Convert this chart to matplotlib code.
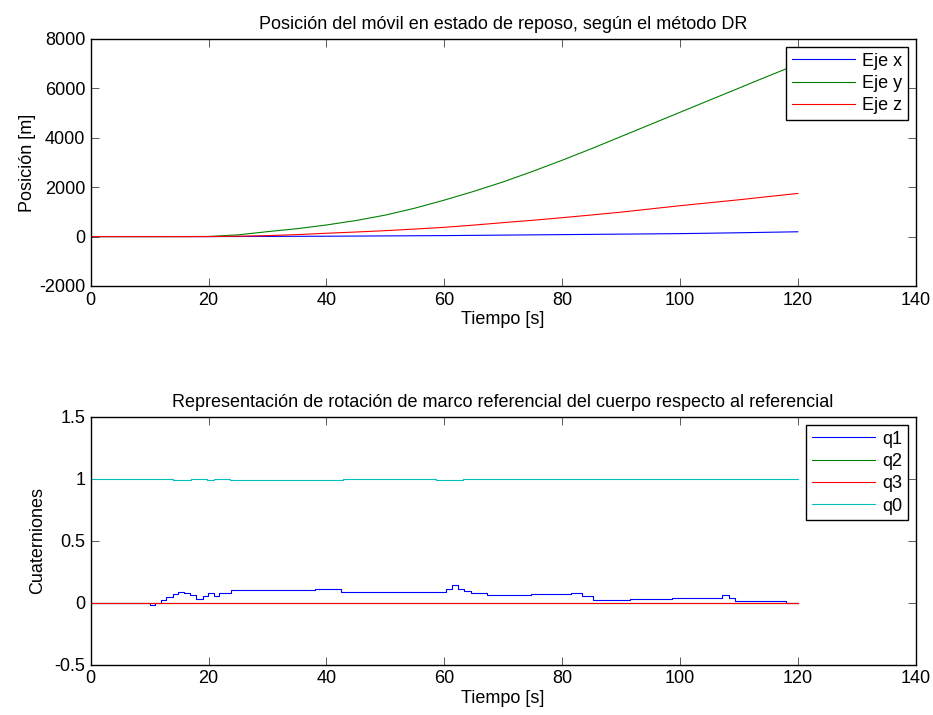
import numpy as np
import matplotlib
matplotlib.use("Agg")
import matplotlib.pyplot as plt

plt.rcParams['font.family'] = ['Liberation Sans', 'DejaVu Sans']
plt.rcParams['axes.unicode_minus'] = False

# ---- Top chart data: position (m) vs time (s)
t_pos = [0, 5, 10, 15, 20, 25, 30, 35, 40, 45, 50, 55, 60, 65, 70, 75, 80,
         85, 90, 95, 100, 105, 110, 115, 120]
pos_x = [0, 0, 0, 0, 0, 3, 8, 11, 15, 21, 28, 34, 40, 50, 60, 70, 80, 90,
         100, 110, 120, 137, 155, 175, 195]
pos_y = [0, 0, 0, 2, 5, 70, 200, 320, 470, 650, 870, 1150, 1476, 1830, 2215,
         2640, 3090, 3560, 4050, 4540, 5030, 5520, 6010, 6500, 6980]
pos_z = [0, 0, 0, 0, 1, 15, 40, 80, 135, 185, 240, 305, 375, 465, 565, 660,
         765, 875, 990, 1120, 1250, 1370, 1490, 1620, 1745]

# ---- Bottom chart data: quaternions (step signals)
q1_t = [0, 10.05, 10.9, 12.0, 12.8, 13.9, 14.9, 15.9, 16.9, 17.9, 19.0, 19.9,
        20.9, 21.8, 23.8, 27.5, 38.0, 42.5, 49.5, 54.0, 60.3, 61.4, 62.3, 63.4,
        64.5, 67.2, 69.3, 74.8, 81.5, 83.3, 85.3, 91.6, 98.7, 105.2, 107.2,
        108.4, 109.3, 118.0, 120]
q1_v = [0, -0.015, 0, 0.02, 0.05, 0.07, 0.09, 0.08, 0.065, 0.03, 0.055, 0.08,
        0.055, 0.08, 0.10, 0.105, 0.11, 0.09, 0.085, 0.09, 0.115, 0.14, 0.115,
        0.095, 0.08, 0.06, 0.065, 0.07, 0.075, 0.055, 0.025, 0.03, 0.035, 0.04,
        0.065, 0.04, 0.015, 0.0, 0.0]
q2_t = [0, 120]
q2_v = [0.001, 0.001]
q3_t = [0, 35.0, 35.5, 37.3, 41.2, 120]
q3_v = [0, -0.003, 0, -0.004, 0, 0]
q0_t = [0, 13.9, 17.0, 19.8, 21.0, 22.1, 23.7, 42.9, 58.6, 63.2, 83.3, 107.5,
        108.3, 120]
q0_v = [1.0, 0.995, 1.0, 0.995, 1.0, 0.997, 0.993, 0.996, 0.993, 0.996, 1.0,
        0.997, 1.0, 1.0]

C_B = (0, 0, 1)
C_G = (0, 0.5, 0)
C_R = (1, 0, 0)
C_C = (0, 0.75, 0.75)
FS = 13
LW = 0.8

fig = plt.figure(figsize=(9.33, 7.15), dpi=100)
ax1 = fig.add_axes([0.0972, 0.6000, 0.8842, 0.3455])
ax2 = fig.add_axes([0.0972, 0.0704, 0.8842, 0.3464])


def style(ax):
    ax.tick_params(direction='in', length=6, width=0.6, top=True, right=True,
                   labelsize=FS, pad=4, color='#404040')
    for s in ax.spines.values():
        s.set_linewidth(1.0)
        s.set_color('black')


def legend(ax):
    lg = ax.legend(loc='upper right', fontsize=FS, frameon=True,
                   fancybox=False, edgecolor='black', framealpha=1,
                   handlelength=3.5, handletextpad=0.4, borderaxespad=0.45,
                   labelspacing=0.3, borderpad=0.3)
    lg.get_frame().set_linewidth(1.0)
    return lg


ax1.plot(t_pos, pos_x, color=C_B, lw=LW, label='Eje x')
ax1.plot(t_pos, pos_y, color=C_G, lw=LW, label='Eje y')
ax1.plot(t_pos, pos_z, color=C_R, lw=LW, label='Eje z')
ax1.set_xlim(0, 140)
ax1.set_ylim(-2000, 8000)
ax1.set_xticks(np.arange(0, 141, 20))
ax1.set_yticks(np.arange(-2000, 8001, 2000))
ax1.set_xlabel('Tiempo [s]', fontsize=FS, labelpad=2)
ax1.set_ylabel('Posición [m]', fontsize=FS, labelpad=2)
ax1.set_title('Posición del móvil en estado de reposo, según el método DR',
              fontsize=FS, pad=7)
style(ax1)
legend(ax1)

ax2.step(q1_t, q1_v, where='post', color=C_B, lw=LW, label='q1')
ax2.step(q2_t, q2_v, where='post', color=C_G, lw=LW, label='q2')
ax2.step(q3_t, q3_v, where='post', color=C_R, lw=LW, label='q3')
ax2.step(q0_t, q0_v, where='post', color=C_C, lw=LW, label='q0')
ax2.set_xlim(0, 140)
ax2.set_ylim(-0.5, 1.5)
ax2.set_xticks(np.arange(0, 141, 20))
ax2.set_yticks([-0.5, 0, 0.5, 1, 1.5])
ax2.set_yticklabels(['-0.5', '0', '0.5', '1', '1.5'])
ax2.set_xlabel('Tiempo [s]', fontsize=FS, labelpad=2)
ax2.set_ylabel('Cuaterniones', fontsize=FS, labelpad=6)
ax2.set_title('Representación de rotación de marco referencial del cuerpo '
              'respecto al referencial', fontsize=FS, pad=7)
style(ax2)
legend(ax2)

fig.savefig('out.png', dpi=100)
